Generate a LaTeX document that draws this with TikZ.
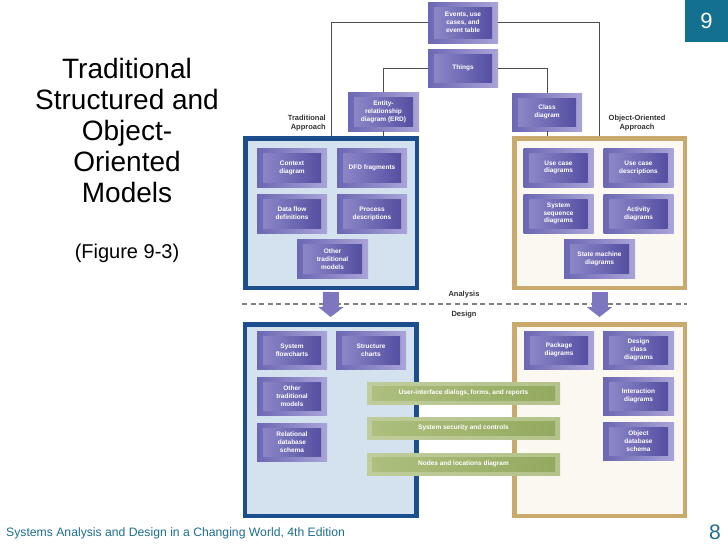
\documentclass[tikz,border=0pt]{standalone}
\usepackage{fontspec}
\setmainfont{Liberation Sans}
\usetikzlibrary{arrows.meta,calc}
\definecolor{pOutL}{HTML}{6C67B3}
\definecolor{pOutR}{HTML}{A9A5D7}
\definecolor{pInL}{HTML}{918DCB}
\definecolor{pInR}{HTML}{4E499D}
\definecolor{gOutL}{HTML}{BFCC9B}
\definecolor{gOutR}{HTML}{B3C38A}
\definecolor{gInL}{HTML}{ADC07F}
\definecolor{gInR}{HTML}{93A95E}
\definecolor{tradBorder}{HTML}{1C4D8C}
\definecolor{tradFill}{HTML}{D4E2EF}
\definecolor{ooBorder}{HTML}{C9A96C}
\definecolor{ooFill}{HTML}{FBF8F2}
\definecolor{connGray}{HTML}{4D4D4D}
\definecolor{fatPurple}{HTML}{7C77BF}
\definecolor{slideTeal}{HTML}{13708E}
\definecolor{footTeal}{HTML}{1E6E8E}
\definecolor{hdrGray}{HTML}{333333}
\begin{document}
\begin{tikzpicture}[x=1pt,y=-1pt,
  pbox/.style={rectangle, inner sep=0pt, outer sep=0pt,
    minimum width=70pt, minimum height=39pt,
    left color=pOutL, right color=pOutR, text=white, align=center,
    font=\fontsize{6.5}{7.9}\selectfont\bfseries,
    path picture={\shade[left color=pInL, right color=pInR]
      ([shift={(6pt,5pt)}]path picture bounding box.south west) rectangle
      ([shift={(-6pt,-5pt)}]path picture bounding box.north east);}},
  gbar/.style={rectangle, inner sep=0pt, outer sep=0pt,
    minimum width=193pt, minimum height=22pt,
    left color=gOutL, right color=gOutR, text=white,
    font=\fontsize{6.5}{7.9}\selectfont\bfseries,
    path picture={\shade[left color=gInL, right color=gInR]
      ([shift={(5pt,4pt)}]path picture bounding box.south west) rectangle
      ([shift={(-5pt,-4pt)}]path picture bounding box.north east);}},
  tradframe/.style={rectangle, draw=tradBorder, fill=tradFill, line width=4.5pt,
    minimum width=171.5pt, inner sep=0pt},
  ooframe/.style={rectangle, draw=ooBorder, fill=ooFill, line width=4.5pt,
    minimum width=170.5pt, inner sep=0pt},
  conn/.style={draw=connGray, line width=0.9pt},
  fatarrow/.style={draw=fatPurple, line width=16pt,
    -{Triangle[width=25pt,length=10pt]}, shorten <=2pt, shorten >=5pt},
  hdr/.style={text=hdrGray, inner sep=0pt,
    font=\fontsize{7.5}{9}\selectfont\bfseries},
  dashline/.style={draw=gray, line width=1.1pt, dash pattern=on 5pt off 3.5pt}
]
\fill[white] (0,0) rectangle (728,546);
\useasboundingbox (0,0) rectangle (728,546);

% slide number box and footer
\node[fill=slideTeal, text=white, minimum width=43pt, minimum height=42pt,
      inner sep=0pt, font=\fontsize{22}{24}\selectfont] (slidenum) at (706.5,21) {9};
\node[anchor=west, text=footTeal, inner sep=0pt,
      font=\fontsize{12.2}{14}\selectfont] (footer) at (6,533)
      {Systems Analysis and Design in a Changing World, 4th Edition};
\node[text=footTeal, inner sep=0pt, font=\fontsize{21}{23}\selectfont]
      (pagenum) at (715,532) {8};

% title
\node[align=center, inner sep=0pt, font=\fontsize{28}{31}\selectfont]
  (title) at (127,130.5) {Traditional\\Structured and\\Object-\\Oriented\\Models};
\node[inner sep=0pt, font=\fontsize{20}{22}\selectfont]
  (figref) at (127,253) {(Figure 9-3)};

% frames
\node[tradframe, minimum height=149.5pt] (trad) at (331,213) {};
\node[ooframe, minimum height=149.5pt] (oo) at (599.5,213) {};
\node[tradframe, minimum height=191.5pt] (tradD) at (330.5,420) {};
\node[ooframe, minimum height=191.5pt] (ooD) at (599.5,420) {};

% top boxes
\node[pbox, minimum height=41pt] (events) at (463,22.5) {Events, use\\cases, and\\event table};
\node[pbox, minimum height=38pt] (things) at (463,68) {Things};
\node[pbox, minimum width=71pt] (erd) at (383.5,111.5) {Entity-\\relationship\\diagram (ERD)};
\node[pbox, minimum height=38pt] (class) at (547,112) {Class\\diagram};

% headers
\node[hdr, anchor=east, align=right] (tradhdr) at (326,123) {Traditional\\Approach};
\node[hdr, align=center] (oohdr) at (637,123) {Object-Oriented\\Approach};

% connectors
\draw[conn] (events.west) -| (trad.north);
\draw[conn] (events.east) -| (oo.north);
\draw[conn] (things.west) -| (erd.north);
\draw[conn] (things.east) -| (class.north);
\draw[conn] (erd.south) -- (erd.south |- trad.north);
\draw[conn] (class.south) -- (class.south |- oo.north);

% traditional analysis
\node[pbox] (context) at (292,167.5) {Context\\diagram};
\node[pbox] (dfd) at (372,167.5) {DFD fragments};
\node[pbox] (dataflow) at (292,213.5) {Data flow\\definitions};
\node[pbox] (process) at (372,213.5) {Process\\descriptions};
\node[pbox, minimum width=71pt] (othertrad) at (332.5,259) {Other\\traditional\\models};

% object-oriented analysis
\node[pbox] (usecase) at (558.5,167.5) {Use case\\diagrams};
\node[pbox] (ucdesc) at (638.5,167.5) {Use case\\descriptions};
\node[pbox] (ssd) at (558.5,213.5) {System\\sequence\\diagrams};
\node[pbox] (activity) at (638.5,213.5) {Activity\\diagrams};
\node[pbox, minimum width=71pt] (statemach) at (599.5,259) {State machine\\diagrams};

% analysis / design divider
\coordinate (divL) at (242,304);
\coordinate (divR) at (687,304);
\draw[dashline] (divL) -- (divR);
\node[hdr] (analysis) at (464,295) {Analysis};
\node[hdr] (design) at (464,315) {Design};

\draw[fatarrow] (trad.south) -- (tradD.north);
\draw[fatarrow] (oo.south) -- (ooD.north);

% traditional design
\node[pbox, minimum height=38pt] (sysflow) at (292,350) {System\\flowcharts};
\node[pbox, minimum height=38pt] (structure) at (371,350) {Structure\\charts};
\node[pbox, minimum height=38pt] (othertrad2) at (292,396) {Other\\traditional\\models};
\node[pbox, minimum height=38pt] (reldb) at (292,442) {Relational\\database\\schema};

% object-oriented design
\node[pbox, minimum height=38pt] (package) at (559,350) {Package\\diagrams};
\node[pbox, minimum height=38pt, minimum width=71pt] (designclass) at (638.5,350) {Design\\class\\diagrams};
\node[pbox, minimum height=38pt, minimum width=71pt] (interaction) at (638.5,396) {Interaction\\diagrams};
\node[pbox, minimum height=38pt, minimum width=71pt] (objdb) at (638.5,441) {Object\\database\\schema};

% shared green bars
\node[gbar] (uibar) at (463.5,393) {User-interface dialogs, forms, and reports};
\node[gbar] (secbar) at (463.5,428) {System security and controls};
\node[gbar] (nodesbar) at (463.5,464) {Nodes and locations diagram};
\end{tikzpicture}
\end{document}
